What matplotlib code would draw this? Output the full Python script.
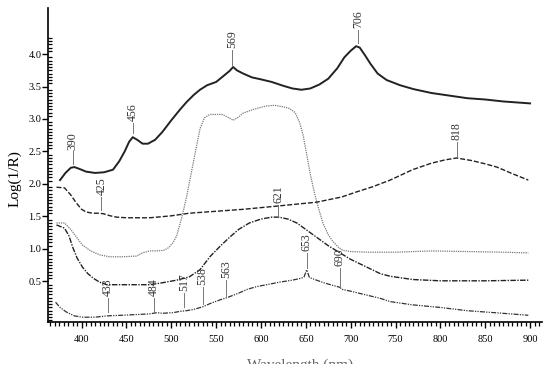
import matplotlib
matplotlib.use('Agg')
import matplotlib.pyplot as plt
from matplotlib.ticker import MultipleLocator
from matplotlib.transforms import Bbox, TransformedBbox

plt.rcParams['font.family'] = ['Liberation Serif', 'DejaVu Serif']

# curve 1 (solid, top)
x1 = [376, 382, 388, 392, 398, 405, 415, 425, 435, 442, 448, 453, 457, 462, 468, 474, 482,
      490, 500, 510, 517, 525, 532, 540, 550, 558, 565, 569, 573, 580, 590, 600, 612, 625,
      635, 645, 655, 665, 675, 685, 693, 700, 706, 710, 716, 722, 730, 740, 755, 770, 790,
      810, 830, 850, 870, 900]
y1 = [2.06, 2.17, 2.25, 2.26, 2.23, 2.19, 2.17, 2.18, 2.22, 2.35, 2.50, 2.65, 2.72, 2.68,
      2.62, 2.62, 2.68, 2.80, 2.98, 3.15, 3.26, 3.37, 3.45, 3.52, 3.57, 3.66, 3.74, 3.80,
      3.75, 3.70, 3.64, 3.61, 3.57, 3.51, 3.47, 3.45, 3.47, 3.53, 3.62, 3.78, 3.95, 4.05,
      4.12, 4.10, 3.98, 3.85, 3.70, 3.60, 3.52, 3.46, 3.40, 3.36, 3.32, 3.30, 3.27, 3.24]

# curve 2 (dotted, grey)
x2 = [372, 381, 388, 395, 401, 410, 420, 431, 445, 461, 468, 476, 484, 492, 497, 502, 506,
      512, 517, 522, 527, 532, 537, 543, 557, 564, 569, 575, 580, 590, 600, 606, 615, 624,
      632, 638, 643, 647, 651, 655, 659, 663, 669, 675, 680, 686, 691, 700, 720, 750, 790,
      830, 870, 898]
y2 = [1.40, 1.40, 1.30, 1.17, 1.06, 0.97, 0.91, 0.88, 0.88, 0.89, 0.94, 0.97, 0.97, 0.98,
      1.02, 1.10, 1.20, 1.50, 1.80, 2.15, 2.50, 2.85, 3.02, 3.07, 3.07, 3.02, 2.98, 3.03,
      3.09, 3.14, 3.18, 3.20, 3.21, 3.19, 3.16, 3.10, 2.95, 2.75, 2.45, 2.15, 1.90, 1.68,
      1.40, 1.22, 1.12, 1.03, 0.98, 0.96, 0.95, 0.95, 0.97, 0.96, 0.95, 0.94]

# curve 3 (dashed)
x3 = [372, 381, 388, 394, 400, 405, 412, 420, 425, 432, 439, 450, 476, 500, 520, 550, 580,
      618, 662, 690, 707, 725, 744, 769, 790, 805, 818, 835, 850, 863, 880, 898]
y3 = [1.95, 1.94, 1.83, 1.71, 1.61, 1.57, 1.55, 1.55, 1.54, 1.51, 1.49, 1.48, 1.48, 1.51,
      1.55, 1.58, 1.61, 1.66, 1.72, 1.80, 1.88, 1.96, 2.06, 2.22, 2.32, 2.37, 2.40, 2.36,
      2.31, 2.26, 2.16, 2.06]

# curve 4 (dash-dot)
x4 = [372, 381, 386, 390, 395, 401, 407, 413, 420, 428, 450, 476, 490, 506, 520, 532, 543,
      555, 565, 575, 587, 600, 612, 620, 630, 640, 650, 662, 675, 688, 700, 718, 733, 744,
      769, 800, 850, 898]
y4 = [1.37, 1.32, 1.20, 1.03, 0.86, 0.72, 0.62, 0.55, 0.49, 0.45, 0.45, 0.45, 0.48, 0.52,
      0.57, 0.68, 0.88, 1.05, 1.18, 1.30, 1.40, 1.46, 1.49, 1.49, 1.46, 1.40, 1.30, 1.18,
      1.05, 0.94, 0.84, 0.72, 0.62, 0.58, 0.53, 0.51, 0.51, 0.52]

# curve 5 (dash-dot-dot, bottom)
x5 = [371, 376, 383, 392, 401, 415, 428, 445, 460, 475, 480, 484, 490, 502, 510, 517, 525,
      535, 545, 555, 562, 575, 585, 595, 610, 621, 635, 645, 648, 651, 654, 660, 670, 680,
      688, 690, 700, 718, 733, 744, 769, 800, 830, 860, 898]
y5 = [0.18, 0.10, 0.03, -0.03, -0.05, -0.05, -0.03, -0.02, -0.01, 0.00, 0.01, 0.02, 0.01,
      0.02, 0.04, 0.05, 0.07, 0.11, 0.17, 0.22, 0.25, 0.32, 0.38, 0.42, 0.46, 0.49, 0.52,
      0.55, 0.57, 0.68, 0.56, 0.53, 0.48, 0.44, 0.41, 0.38, 0.35, 0.29, 0.24, 0.19, 0.14,
      0.10, 0.05, 0.02, -0.02]

# peak labels: wavelength, line start, line end
peak_lbl = ['390', '456', '569', '706', '425', '818', '621', '653', '690',
            '433', '484', '517', '538', '563']
peak_x = [390, 457, 568, 708, 422, 818, 619, 651, 688, 429, 481, 514, 535, 561]
peak_y0 = [2.30, 2.78, 3.83, 4.17, 1.60, 2.42, 1.52, 0.71, 0.40, 0.03, 0.02, 0.10, 0.15, 0.26]
peak_y1 = [2.50, 2.94, 4.06, 4.37, 1.80, 2.65, 1.68, 0.94, 0.71, 0.25, 0.25, 0.32, 0.42, 0.52]

fig = plt.figure(figsize=(5.5, 3.75), dpi=100)
ax = fig.add_axes([0.088, 0.142, 0.897, 0.837])

ax.plot(x1, y1, color='#222222', lw=1.4)
ax.plot(x2, y2, color='#7a7a7a', lw=0.9, linestyle=(0, (1, 0.8)))
ax.plot(x3, y3, color='#222222', lw=1.0, linestyle=(0, (3.6, 1.4)))
ax.plot(x4, y4, color='#222222', lw=1.0, linestyle=(0, (4, 1, 1, 1)))
ax.plot(x5, y5, color='#333333', lw=0.9, linestyle=(0, (4, 1, 1, 1, 1, 1)))

for lbl, px, a, b in zip(peak_lbl, peak_x, peak_y0, peak_y1):
    ax.plot([px, px], [a, b], color='#777777', lw=0.7)
    ax.text(px, b + 0.03, lbl, rotation=90, ha='center', va='bottom',
            fontsize=8.5, color='#333333')

ax.set_xlim(363, 913)
ax.set_ylim(-0.12, 4.71)
ax.spines['top'].set_visible(False)
ax.spines['right'].set_visible(False)
ax.spines['left'].set_linewidth(1.2)
ax.spines['bottom'].set_linewidth(1.2)

ax.set_xticks(range(400, 901, 50))
ax.xaxis.set_minor_locator(MultipleLocator(5))
ax.set_yticks([0.5, 1.0, 1.5, 2.0, 2.5, 3.0, 3.5, 4.0])
ax.set_yticks([i * 0.05 for i in range(-2, 86)], minor=True)
ax.tick_params(axis='x', which='major', direction='out', length=4.5, width=1, labelsize=7.5, pad=5)
ax.tick_params(axis='x', which='minor', direction='out', length=3, width=0.9)
ax.tick_params(axis='y', which='major', direction='out', length=4, width=1, labelsize=7.5, pad=1)
ax.tick_params(axis='y', which='minor', direction='in', length=3, width=0.9)

fig.text(0.027, 0.525, 'Log(1/R)', rotation=90, ha='center', va='center', fontsize=11)

# x label is cut off in the original picture, only the tops of the letters show
xl = fig.text(0.545, 0.045, 'Wavelength (nm)', ha='center', va='top', fontsize=11, color='#666666')
xl.set_clip_box(TransformedBbox(Bbox([[0, 0.03], [1, 1]]), fig.transFigure))
xl.set_clip_on(True)

fig.savefig('out.png', dpi=100)
